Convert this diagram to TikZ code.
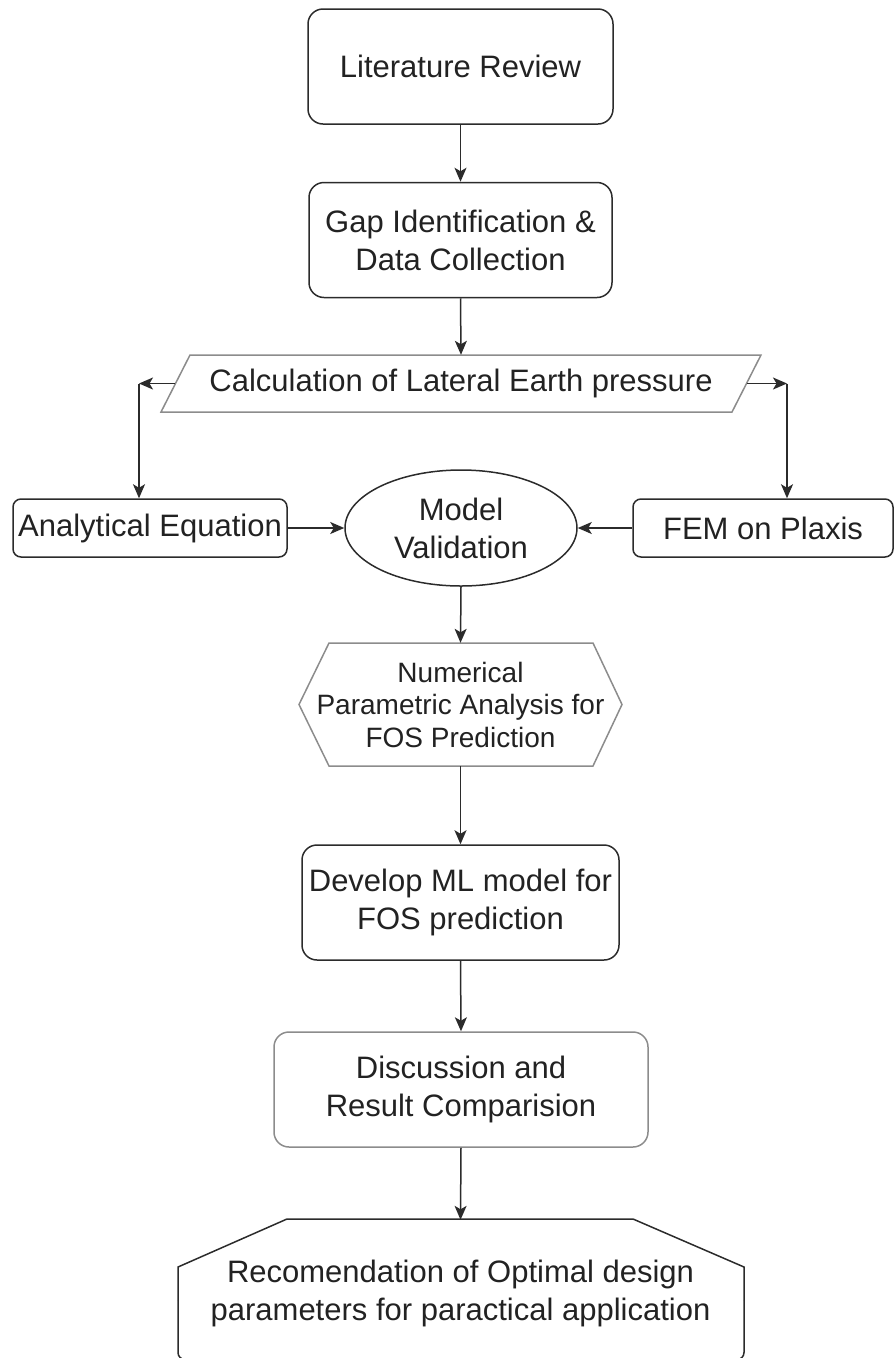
\documentclass[tikz,border=0pt]{standalone}
\usepackage{fontspec}
\setmainfont{Liberation Sans}
\usetikzlibrary{shapes.geometric,arrows.meta,calc}
\definecolor{ln}{HTML}{2B2B2B}
\definecolor{lg}{HTML}{8C8C8C}
\definecolor{tx}{HTML}{222222}
\begin{document}
\begin{tikzpicture}[x=1pt,y=-1pt,
  every node/.style={text=tx, inner sep=0pt, align=center, font=\fontsize{31}{38}\selectfont},
  rbox/.style={rectangle, draw=ln, line width=1.5pt, rounded corners=#1},
  rbox/.default=15pt,
  gbox/.style={rectangle, draw=lg, line width=1.5pt, rounded corners=15pt},
  plain/.style={rectangle, draw=none},
  oval/.style={ellipse, draw=ln, line width=1.5pt},
  gline/.style={draw=lg, line width=1.5pt, line join=miter},
  dline/.style={draw=ln, line width=1.5pt},
  arr/.style={draw=ln, line width=1.5pt, -{Stealth[length=14pt,width=12pt,inset=3.5pt]}},
  small/.style={font=\fontsize{28}{32.5}\selectfont}
]
\useasboundingbox (0,0) rectangle (896,1358);

% nodes
\node[rbox, minimum width=305pt, minimum height=115pt] (lit) at (460.5,66.5) {Literature Review};
\node[rbox, minimum width=303pt, minimum height=115pt] (gap) at (460.5,240) {Gap Identification \&\\Data Collection};
\node[plain, minimum width=571pt, minimum height=57pt] (calc) at (461,383.5) {Calculation of Lateral Earth pressure};
\draw[gline] (161,412) -- (190,355) -- (761,355) -- (732,412) -- cycle;
\node[rbox=8pt, minimum width=274pt, minimum height=58pt] (ana) at (150,528) {Analytical Equation};
\node[rbox=8pt, minimum width=260pt, minimum height=58pt] (fem) at (763,528) {FEM on Plaxis};
\node[oval, minimum width=232pt, minimum height=116pt] (mv) at (461,528) {Model\\Validation};
\node[plain, small, minimum width=323pt, minimum height=123pt] (hex) at (460.5,704.5) {Numerical\\Parametric Analysis for\\FOS Prediction};
\draw[gline] (299,704.5) -- (329,643) -- (593,643) -- (622,704.5) -- (593,766) -- (329,766) -- cycle;
\node[rbox, minimum width=317pt, minimum height=115pt] (ml) at (460.5,902.5) {Develop ML model for\\FOS prediction};
\node[gbox, minimum width=374pt, minimum height=115pt] (disc) at (461,1089.5) {Discussion and\\Result Comparision};
\node[plain, minimum width=566pt, minimum height=146pt] (rec) at (460.5,1293) {Recomendation of Optimal design\\parameters for paractical application};
\draw[dline, line join=miter] (178,1300) -- (178,1267) -- (287,1219) -- (633,1219) -- (744,1267) -- (744,1300);
\draw[dline, rounded corners=7pt] (178,1300) -- (178,1359.5) -- (744,1359.5) -- (744,1300);

\coordinate (cl) at (139,383.5);
\coordinate (cr) at (787,383.5);

% connectors
\draw[arr] (lit.south) -- (gap.north);
\draw[arr] (gap.south) -- (calc.north);
\draw[arr] (calc.west) -- (cl);
\draw[arr] (cl) -- (cl |- ana.north);
\draw[arr] (calc.east) -- (cr);
\draw[arr] (cr) -- (cr |- fem.north);
\draw[arr] (ana.east) -- (mv.west);
\draw[arr] (fem.west) -- (mv.east);
\draw[arr] (mv.south) -- (hex.north);
\draw[arr] (hex.south) -- (ml.north);
\draw[arr] (ml.south) -- (disc.north);
\draw[arr] (disc.south) -- (rec.north);
\end{tikzpicture}
\end{document}
